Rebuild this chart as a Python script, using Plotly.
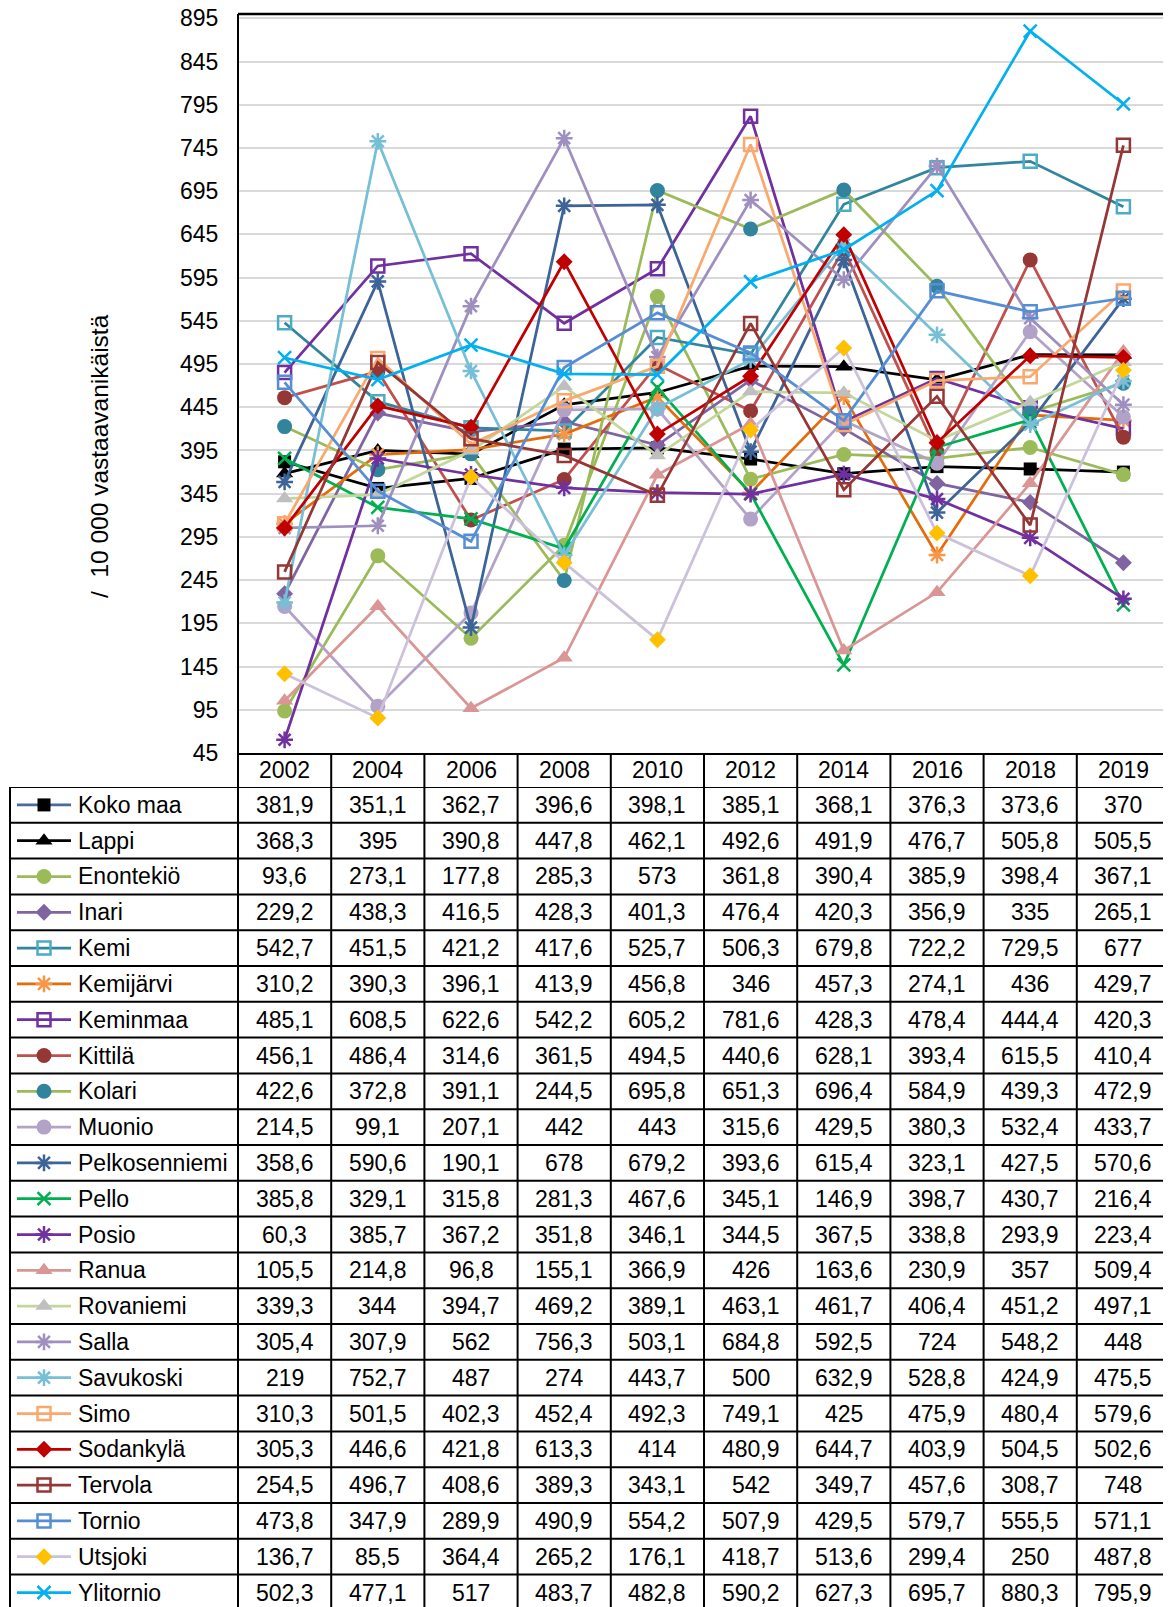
import plotly.graph_objects as go

W, H = 1171, 1607

years = ["2002", "2004", "2006", "2008", "2010", "2012", "2014", "2016", "2018", "2019"]

koko_maa = [381.9, 351.1, 362.7, 396.6, 398.1, 385.1, 368.1, 376.3, 373.6, 370]
lappi = [368.3, 395, 390.8, 447.8, 462.1, 492.6, 491.9, 476.7, 505.8, 505.5]
enontekio = [93.6, 273.1, 177.8, 285.3, 573, 361.8, 390.4, 385.9, 398.4, 367.1]
inari = [229.2, 438.3, 416.5, 428.3, 401.3, 476.4, 420.3, 356.9, 335, 265.1]
kemi = [542.7, 451.5, 421.2, 417.6, 525.7, 506.3, 679.8, 722.2, 729.5, 677]
kemijarvi = [310.2, 390.3, 396.1, 413.9, 456.8, 346, 457.3, 274.1, 436, 429.7]
keminmaa = [485.1, 608.5, 622.6, 542.2, 605.2, 781.6, 428.3, 478.4, 444.4, 420.3]
kittila = [456.1, 486.4, 314.6, 361.5, 494.5, 440.6, 628.1, 393.4, 615.5, 410.4]
kolari = [422.6, 372.8, 391.1, 244.5, 695.8, 651.3, 696.4, 584.9, 439.3, 472.9]
muonio = [214.5, 99.1, 207.1, 442, 443, 315.6, 429.5, 380.3, 532.4, 433.7]
pelkosenniemi = [358.6, 590.6, 190.1, 678, 679.2, 393.6, 615.4, 323.1, 427.5, 570.6]
pello = [385.8, 329.1, 315.8, 281.3, 467.6, 345.1, 146.9, 398.7, 430.7, 216.4]
posio = [60.3, 385.7, 367.2, 351.8, 346.1, 344.5, 367.5, 338.8, 293.9, 223.4]
ranua = [105.5, 214.8, 96.8, 155.1, 366.9, 426, 163.6, 230.9, 357, 509.4]
rovaniemi = [339.3, 344, 394.7, 469.2, 389.1, 463.1, 461.7, 406.4, 451.2, 497.1]
salla = [305.4, 307.9, 562, 756.3, 503.1, 684.8, 592.5, 724, 548.2, 448]
savukoski = [219, 752.7, 487, 274, 443.7, 500, 632.9, 528.8, 424.9, 475.5]
simo = [310.3, 501.5, 402.3, 452.4, 492.3, 749.1, 425, 475.9, 480.4, 579.6]
sodankyla = [305.3, 446.6, 421.8, 613.3, 414, 480.9, 644.7, 403.9, 504.5, 502.6]
tervola = [254.5, 496.7, 408.6, 389.3, 343.1, 542, 349.7, 457.6, 308.7, 748]
tornio = [473.8, 347.9, 289.9, 490.9, 554.2, 507.9, 429.5, 579.7, 555.5, 571.1]
utsjoki = [136.7, 85.5, 364.4, 265.2, 176.1, 418.7, 513.6, 299.4, 250, 487.8]
ylitornio = [502.3, 477.1, 517, 483.7, 482.8, 590.2, 627.3, 695.7, 880.3, 795.9]

series_names = ["Koko maa", "Lappi", "Enontekiö", "Inari", "Kemi", "Kemijärvi", "Keminmaa",
                "Kittilä", "Kolari", "Muonio", "Pelkosenniemi", "Pello", "Posio", "Ranua",
                "Rovaniemi", "Salla", "Savukoski", "Simo", "Sodankylä", "Tervola", "Tornio",
                "Utsjoki", "Ylitornio"]
series_values = [koko_maa, lappi, enontekio, inari, kemi, kemijarvi, keminmaa, kittila, kolari,
                 muonio, pelkosenniemi, pello, posio, ranua, rovaniemi, salla, savukoski, simo,
                 sodankyla, tervola, tornio, utsjoki, ylitornio]

y_title = "/\u00a0 10 000 vastaavanikäistä"

# styles: (plot line color, legend line color, marker symbol, marker color, marker size)
styles = [
    ("#000000", "#4A6A9C", "square", "#000000", 13),
    ("#000000", "#000000", "triangle-up", "#000000", 15),
    ("#9BBB59", "#9BBB59", "circle", "#9BBB59", 15),
    ("#8064A2", "#8064A2", "diamond", "#8064A2", 13),
    ("#31859C", "#31859C", "square-open", "#4BACC6", 13),
    ("#E46C0A", "#E46C0A", "asterisk-open", "#F79646", 14),
    ("#7030A0", "#7030A0", "square-open", "#7030A0", 13),
    ("#C0504D", "#C0504D", "circle", "#953735", 15),
    ("#9BBB59", "#9BBB59", "circle", "#31849B", 15),
    ("#B3A2C7", "#B3A2C7", "circle", "#B3A2C7", 15),
    ("#3C6498", "#3C6498", "asterisk-open", "#3C6498", 14),
    ("#00B050", "#00B050", "x-thin-open", "#00B050", 13),
    ("#7030A0", "#7030A0", "asterisk-open", "#7030A0", 14),
    ("#D99694", "#D99694", "triangle-up", "#D99694", 15),
    ("#C3D69B", "#C3D69B", "triangle-up", "#BFBFBF", 15),
    ("#9F8FBF", "#9F8FBF", "asterisk-open", "#9F8FBF", 14),
    ("#77BFD6", "#77BFD6", "asterisk-open", "#77BFD6", 14),
    ("#FAA96E", "#FAA96E", "square-open", "#FAA96E", 13),
    ("#C00000", "#C00000", "diamond", "#C00000", 13),
    ("#953735", "#953735", "square-open", "#953735", 13),
    ("#558ED5", "#558ED5", "square-open", "#558ED5", 13),
    ("#CCC1DA", "#CCC1DA", "diamond", "#FFC000", 13),
    ("#00B0F0", "#00B0F0", "x-thin-open", "#00B0F0", 13),
]

FONT = "Liberation Sans, Arial, sans-serif"
FS = 23

# page offset (default body margin of the html page)
OFF = 8

# layout geometry (screen pixels)
PL, PR, PT, PB = 238, 1170, 14, 753
TL = 10
HDR_B = 787
ROW_H = 35.8


def px(x):
    return (x - OFF) / W


def py(y):
    return 1 - (y - OFF) / H


def fmt(v):
    return f"{v:g}".replace(".", ",")


xi = list(range(len(years)))
fig = go.Figure()

for name, vals, st in zip(series_names, series_values, styles):
    lc, _, sym, mc, ms = st
    is_open = sym.endswith("-open")
    fig.add_trace(go.Scatter(
        x=xi, y=vals, mode="lines+markers", name=name,
        line=dict(color=lc, width=2.75),
        marker=dict(symbol=sym, color=mc, size=ms,
                    line=dict(color=mc, width=2.5 if is_open else 0)),
        xaxis="x", yaxis="y", cliponaxis=False, showlegend=False,
    ))

# legend keys in the table's first column
n = len(series_names)
for k, (name, st) in enumerate(zip(series_names, styles)):
    _, llc, sym, mc, ms = st
    is_open = sym.endswith("-open")
    fig.add_trace(go.Scatter(
        x=[17, 71], y=[k + 0.5, k + 0.5], mode="lines",
        line=dict(color=llc, width=2.75), xaxis="x2", yaxis="y2", showlegend=False,
        hoverinfo="skip",
    ))
    fig.add_trace(go.Scatter(
        x=[44], y=[k + 0.5], mode="markers",
        marker=dict(symbol=sym, color=mc, size=ms,
                    line=dict(color=mc, width=2.5 if is_open else 0)),
        xaxis="x2", yaxis="y2", showlegend=False, cliponaxis=False,
    ))

annotations = []
for i, yr in enumerate(years):
    annotations.append(dict(x=i, y=py((PB + HDR_B) / 2), xref="x", yref="paper", text=yr,
                            showarrow=False, font=dict(family=FONT, size=FS, color="black"),
                            xanchor="center", yanchor="middle"))
for k, (name, vals) in enumerate(zip(series_names, series_values)):
    annotations.append(dict(x=76, y=k + 0.5, xref="x2", yref="y2", text=name, showarrow=False,
                            font=dict(family=FONT, size=FS, color="black"),
                            xanchor="left", yanchor="middle"))
    for i, v in enumerate(vals):
        annotations.append(dict(x=i, y=k + 0.5, xref="x", yref="y2", text=fmt(v),
                                showarrow=False, font=dict(family=FONT, size=FS, color="black"),
                                xanchor="center", yanchor="middle"))
annotations.append(dict(x=px(100), y=py(456), xref="paper", yref="paper", text=y_title,
                        textangle=-90, showarrow=False,
                        font=dict(family=FONT, size=24.5, color="black"),
                        xanchor="center", yanchor="middle"))

shapes = []
blk = dict(color="black", width=2)
shapes.append(dict(type="line", xref="paper", yref="paper", x0=px(PL), x1=px(PR + 1),
                   y0=py(PT), y1=py(PT), line=dict(color="black", width=2.5)))
shapes.append(dict(type="line", xref="paper", yref="paper", x0=px(PR), x1=px(PR),
                   y0=py(PT), y1=py(PB), line=dict(color="#D9D9D9", width=1.5)))
shapes.append(dict(type="line", xref="paper", yref="paper", x0=px(PL), x1=px(PL),
                   y0=py(PT), y1=0, line=blk))
shapes.append(dict(type="line", xref="paper", yref="paper", x0=px(PL), x1=px(PR),
                   y0=py(PB + 1), y1=py(PB + 1), line=blk))
for k in range(n + 1):
    shapes.append(dict(type="line", xref="paper", yref="y2", x0=px(TL), x1=px(PR),
                       y0=k, y1=k, line=blk))
for i in range(1, len(years) + 1):
    shapes.append(dict(type="line", xref="x", yref="paper", x0=i - 0.5, x1=i - 0.5,
                       y0=py(PB), y1=0, line=blk))
shapes.append(dict(type="line", xref="paper", yref="paper", x0=px(TL), x1=px(TL),
                   y0=py(HDR_B), y1=0, line=blk))

rows_visible = (H + OFF - HDR_B) / ROW_H

fig.update_layout(
    width=W, height=H, margin=dict(l=0, r=0, t=0, b=0, autoexpand=False),
    paper_bgcolor="white", plot_bgcolor="white",
    font=dict(family=FONT, size=FS, color="black"),
    xaxis=dict(domain=[px(PL), px(PR)], range=[-0.5, len(years) - 0.5], showticklabels=False,
               showgrid=False, zeroline=False, showline=False, ticks="", anchor="y",
               automargin=False),
    yaxis=dict(domain=[py(PB), py(PT)], range=[45, 45 + (PB - PT) / ((PB - 18.3) / 850)],
               tick0=45, dtick=50, showgrid=True, gridcolor="#D9D9D9", gridwidth=1.5,
               zeroline=False, showline=False, ticks="outside", ticklen=14,
               tickcolor="rgba(0,0,0,0)", tickfont=dict(family=FONT, size=FS, color="black"),
               ticklabeloverflow="allow", anchor="x", automargin=False),
    xaxis2=dict(domain=[0, px(PL)], range=[OFF, PL], visible=False, anchor="y2",
                automargin=False),
    yaxis2=dict(domain=[0, py(HDR_B)], range=[rows_visible, 0], visible=False, anchor="x2",
                automargin=False),
    annotations=annotations, shapes=shapes, showlegend=False,
)

fig.write_html("out.html")
